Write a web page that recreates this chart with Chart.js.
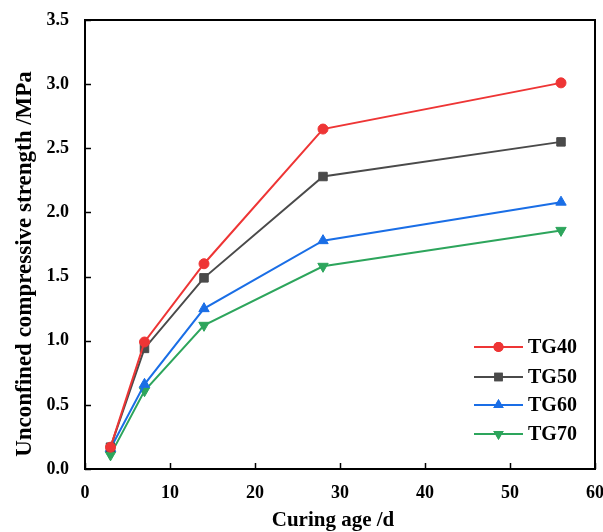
<!DOCTYPE html>
<html><head><meta charset="utf-8">
<script src="https://cdn.jsdelivr.net/npm/chart.js@4.4.0/dist/chart.umd.min.js"></script>
<style>html,body{margin:0;padding:0;background:#fff}#wrap{width:603px;height:532px}</style>
</head><body><div id="wrap"><canvas id="c" width="603" height="532"></canvas></div>
<script>
const ages = [3, 7, 14, 28, 56];
const seriesNames = ['TG40', 'TG50', 'TG60', 'TG70'];
const tg40 = [0.17, 0.99, 1.60, 2.65, 3.01];
const tg50 = [0.17, 0.94, 1.49, 2.28, 2.55];
const tg60 = [0.16, 0.66, 1.25, 1.78, 2.08];
const tg70 = [0.11, 0.61, 1.12, 1.58, 1.86];
const xTicks = [0, 10, 20, 30, 40, 50, 60];
const yTicks = [0, 0.5, 1.0, 1.5, 2.0, 2.5, 3.0, 3.5];
const xTitle = 'Curing age /d';
const yTitle = 'Unconfined compressive strength /MPa';

const colors = ['#EE3535', '#4A4A4A', '#1A6EE6', '#2DA55C'];
const styles = ['circle', 'rect', 'triangle', 'triangle'];
const rots = [0, 0, 0, 180];
const radii = [5, 6, 6, 6];
const vals = [tg40, tg50, tg60, tg70];

const datasets = vals.map((v, i) => ({
  label: seriesNames[i],
  data: ages.map((a, j) => ({x: a, y: v[j]})),
  borderColor: colors[i], backgroundColor: colors[i],
  borderWidth: 2, pointStyle: styles[i], pointRotation: rots[i],
  pointRadius: radii[i], pointBorderWidth: 1,
  tension: 0
}));

const FONT = '"Liberation Serif", "Times New Roman", serif';

const framePlugin = {
  id: 'frame',
  afterDraw(chart) {
    const {ctx, chartArea: a, scales} = chart;
    ctx.save();
    ctx.strokeStyle = '#000'; ctx.lineWidth = 2;
    ctx.strokeRect(a.left, a.top, a.right - a.left, a.bottom - a.top);
    ctx.lineWidth = 1.5;
    xTicks.forEach(t => { const px = Math.round(scales.x.getPixelForValue(t)) + 0.5;
      ctx.beginPath(); ctx.moveTo(px, a.bottom); ctx.lineTo(px, a.bottom - 6); ctx.stroke(); });
    yTicks.forEach(t => { const py = Math.round(scales.y.getPixelForValue(t)) + 0.5;
      ctx.beginPath(); ctx.moveTo(a.left, py); ctx.lineTo(a.left + 6, py); ctx.stroke(); });
    // axis titles
    ctx.fillStyle = '#000'; ctx.textAlign = 'center'; ctx.textBaseline = 'alphabetic';
    ctx.font = 'bold 21px ' + FONT;
    ctx.fillText(xTitle, 333, 526);
    ctx.save();
    ctx.translate(31, 264); ctx.rotate(-Math.PI / 2);
    ctx.font = 'bold 23px ' + FONT;
    ctx.fillText(yTitle, 0, 0);
    ctx.restore();
    // legend
    const rowsY = [347, 377, 405, 434];
    ctx.font = 'bold 20px ' + FONT; ctx.textBaseline = 'middle'; ctx.textAlign = 'left';
    chart.data.datasets.forEach((ds, i) => {
      const y = rowsY[i];
      ctx.strokeStyle = ds.borderColor; ctx.lineWidth = 2;
      ctx.beginPath(); ctx.moveTo(474, y); ctx.lineTo(523, y); ctx.stroke();
      ctx.fillStyle = ds.backgroundColor;
      Chart.helpers.drawPoint(ctx, {pointStyle: ds.pointStyle, rotation: ds.pointRotation, radius: ds.pointRadius, borderWidth: 0}, 498.5, y);
      ctx.fill();
      ctx.fillStyle = '#000';
      ctx.fillText(ds.label, 528, y + 1);
    });
    ctx.restore();
  }
};

new Chart(document.getElementById('c'), {
  type: 'line',
  data: {datasets},
  options: {
    responsive: false, animation: false, devicePixelRatio: 1,
    layout: {padding: {left: 0, right: 8, top: 20, bottom: 0}},
    plugins: {legend: {display: false}, tooltip: {enabled: false}},
    scales: {
      x: {type: 'linear', min: 0, max: 60,
        afterBuildTicks: s => { s.ticks = xTicks.map(v => ({value: v})); },
        grid: {display: false}, border: {display: false},
        ticks: {color: '#000', font: {family: FONT, size: 18, weight: 'bold'}, padding: 6},
        afterFit: s => { s.height = 63; s.paddingLeft = 0; s.paddingRight = 0; }
      },
      y: {type: 'linear', min: 0, max: 3.5,
        afterBuildTicks: s => { s.ticks = yTicks.map(v => ({value: v})); },
        grid: {display: false}, border: {display: false},
        ticks: {color: '#000', font: {family: FONT, size: 18, weight: 'bold'}, padding: 8, callback: v => v.toFixed(1)},
        afterFit: s => { s.width = 85; s.paddingTop = 0; s.paddingBottom = 0; }
      }
    }
  },
  plugins: [framePlugin]
});
</script></body></html>
